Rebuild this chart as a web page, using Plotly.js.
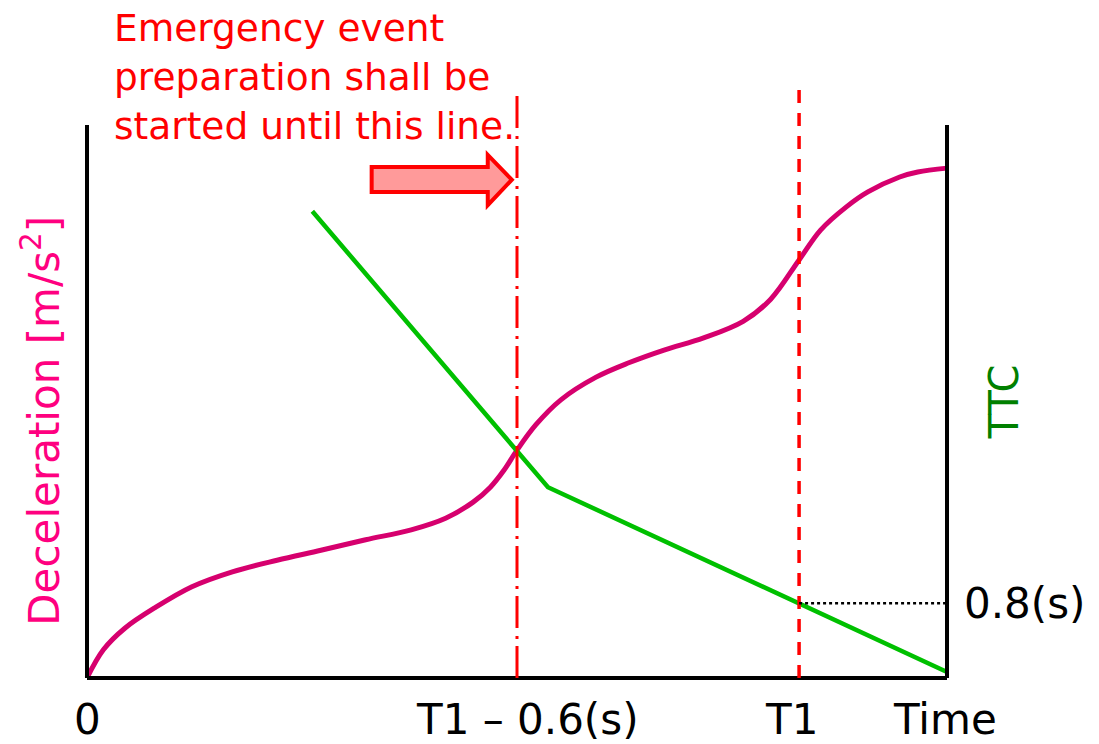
<!DOCTYPE html>
<html>
<head>
<meta charset="utf-8">
<script src="https://cdn.plot.ly/plotly-3.0.1.min.js"></script>
<style>html,body{margin:0;padding:0;background:#fff;}#chart{width:1099px;height:744px;}</style>
</head>
<body>
<div id="chart"></div>
<script>
// Deceleration curve (time units 0..10, deceleration units 0..10 = axis top)
const decelTime = [0, 0.19, 0.44, 0.80, 1.22, 1.69, 2.21, 2.72, 3.24, 3.77, 4.17, 4.49, 4.69, 4.85, 5.00, 5.22, 5.51, 5.92, 6.30, 6.71, 7.17, 7.63, 7.95, 8.28, 8.53, 8.83, 9.08, 9.45, 9.66, 10.0];
const decelValue = [0, 0.51, 0.90, 1.28, 1.65, 1.92, 2.13, 2.31, 2.50, 2.68, 2.89, 3.18, 3.45, 3.76, 4.12, 4.58, 5.03, 5.44, 5.70, 5.93, 6.15, 6.45, 6.85, 7.56, 8.10, 8.52, 8.79, 9.06, 9.15, 9.22];
// TTC line
const ttcTime = [2.62, 5.36, 10.0];
const ttcValue = [8.44, 3.45, 0.11];
// Markers
const tPrep = 5.0;     // T1 - 0.6(s)
const tT1 = 8.28;      // T1
const tEnd = 10.0;     // Time
const ttcAtT1 = 1.35;  // 0.8(s)
const axisTop = 10.0;
const lineTop = 10.65;

const tickLabels = ['0', 'T1 \u2013 0.6(s)', 'T1', 'Time'];
const tickPos = [0, 5.12, 8.19, 9.98];

const PXX = 86, PXY = 55.3;
const xRange = [-87 / PXX, (1099 - 87) / PXX];
const yRange = [-(744 - 678) / PXY, 678 / PXY];

const traces = [
  {x: decelTime, y: decelValue, type: 'scatter', mode: 'lines',
   line: {color: 'rgb(214,0,110)', width: 5, shape: 'spline', smoothing: 1}, hoverinfo: 'skip'},
  {x: ttcTime, y: ttcValue, type: 'scatter', mode: 'lines',
   line: {color: 'rgb(0,192,0)', width: 4.5}, hoverinfo: 'skip'}
];

// block arrow geometry (data coords)
const ax0 = 3.31, axb = 4.66, axt = 4.94;
const ayBodyTop = 9.24, ayBodyBot = 8.79, ayHeadTop = 9.46, ayHeadBot = 8.55, ayMid = 9.01;
const arrowPath = `M ${ax0} ${ayBodyTop} L ${axb} ${ayBodyTop} L ${axb} ${ayHeadTop} L ${axt} ${ayMid} L ${axb} ${ayHeadBot} L ${axb} ${ayBodyBot} L ${ax0} ${ayBodyBot} Z`;

const shapes = [
  {type: 'line', x0: 0, x1: 0, y0: 0, y1: axisTop, line: {color: 'black', width: 4}},
  {type: 'line', x0: tEnd, x1: tEnd, y0: 0, y1: axisTop, line: {color: 'black', width: 4}},
  {type: 'line', x0: 0, x1: tEnd, y0: 0, y1: 0, line: {color: 'black', width: 4}},
  {type: 'line', x0: tPrep, x1: tPrep, y0: 0, y1: lineTop, line: {color: 'red', width: 3, dash: '32px,7px,3px,8px'}},
  {type: 'line', x0: tT1, x1: tT1, y0: 0, y1: lineTop, line: {color: 'red', width: 3.5, dash: '13px,10px'}},
  {type: 'line', x0: tT1, x1: tEnd, y0: ttcAtT1, y1: ttcAtT1, line: {color: 'black', width: 2.5, dash: 'dot'}},
  {type: 'path', path: arrowPath, fillcolor: '#ff9a9a', line: {color: 'red', width: 4}}
];

const F = 'DejaVu Sans, Verdana, sans-serif';
const annotations = [
  {x: 0.29, y: 12.18, xanchor: 'left', yanchor: 'top', align: 'left', showarrow: false,
   text: 'Emergency event<br>preparation shall be<br>started until this line.',
   font: {family: F, size: 37.5, color: 'red'}},
  {x: -0.53, y: 4.66, textangle: -90, showarrow: false,
   text: 'Deceleration [m/s<sup>2</sup>]', font: {family: F, size: 42, color: 'rgb(255,0,128)'}},
  {x: 10.66, y: 5.0, textangle: -90, showarrow: false,
   text: 'TTC', font: {family: F, size: 40, color: 'rgb(0,128,0)'}},
  {x: 10.17, y: ttcAtT1, xanchor: 'left', showarrow: false,
   text: '0.8(s)', font: {family: F, size: 42, color: 'black'}}
];
tickLabels.forEach((t, i) => annotations.push({
  x: tickPos[i], y: -0.75, showarrow: false, text: t,
  font: {family: F, size: 42, color: 'black'}
}));

const layout = {
  width: 1099, height: 744,
  margin: {l: 0, r: 0, t: 0, b: 0},
  paper_bgcolor: 'white', plot_bgcolor: 'white',
  showlegend: false,
  xaxis: {range: xRange, visible: false, fixedrange: true},
  yaxis: {range: yRange, visible: false, fixedrange: true},
  shapes: shapes,
  annotations: annotations
};

Plotly.newPlot('chart', traces, layout, {staticPlot: true, displayModeBar: false});
</script>
</body>
</html>
